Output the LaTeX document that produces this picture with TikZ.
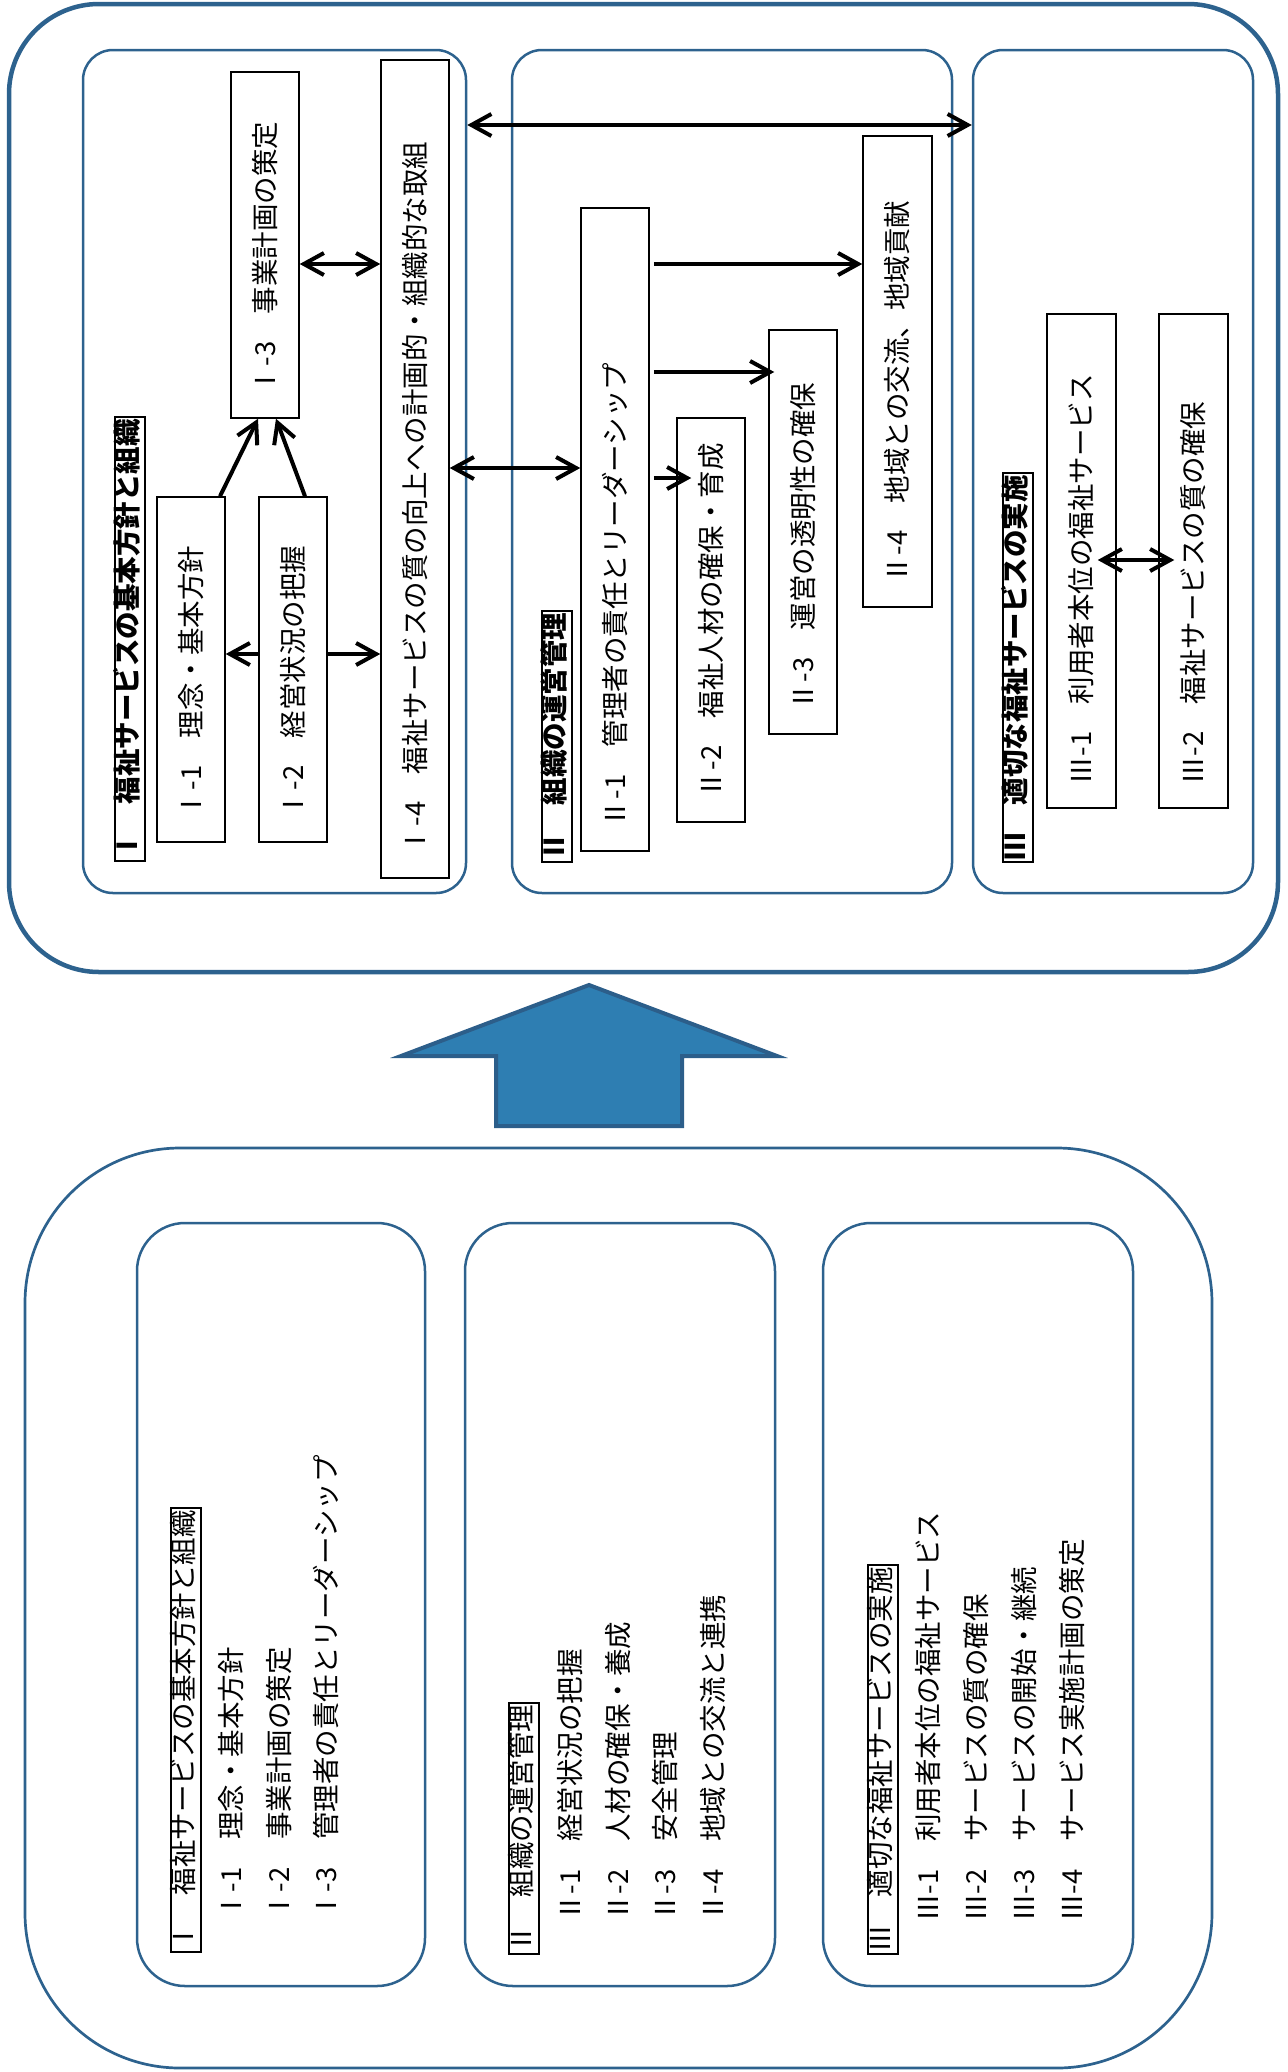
\documentclass[tikz,border=0pt]{standalone}
\usepackage{fontspec}
\usepackage{graphicx}
\setmainfont{Noto Sans CJK JP}
\usetikzlibrary{arrows.meta,calc}
\definecolor{bl}{RGB}{45,98,142}
\definecolor{arrowfill}{RGB}{46,126,178}
\definecolor{arrowline}{RGB}{44,94,138}
\newcommand{\rtx}[2]{\rotatebox{90}{\makebox[#1][l]{\rule[-0.12em]{0pt}{1em}#2}}}
\begin{document}
\begin{tikzpicture}[x=0.5pt,y=-0.5pt,
  every node/.style={font=\fontsize{13.75}{16}\selectfont},
  secbox/.style={draw=bl,line width=1.25pt,rounded corners=15pt,inner sep=0pt,minimum height=421.5pt},
  bbox/.style={draw=bl,line width=1.25pt,rounded corners=24pt,inner sep=0pt,minimum height=381.5pt},
  itembox/.style={draw=black,line width=0.75pt,inner sep=0pt,minimum width=34pt},
  head/.style={draw=black,line width=1pt,rotate=90,anchor=west,inner xsep=1pt,inner ysep=2.5pt,
    text height=0.88em,text depth=0.12em,font=\fontsize{13.75}{16}\selectfont\bfseries},
  headb/.style={draw=black,line width=1pt,rotate=90,anchor=west,inner xsep=1pt,inner ysep=2.5pt,
    text height=0.88em,text depth=0.12em},
  btxt/.style={rotate=90,anchor=west,inner sep=0pt,text height=0.88em,text depth=0.12em},
  conn/.style={line width=2pt,-{Straight Barb[length=10pt,width=11pt]}},
  dconn/.style={line width=2pt,{Straight Barb[length=10pt,width=11pt]}-{Straight Barb[length=10pt,width=11pt]}}
]
\useasboundingbox (0,0) rectangle (1288,2072);

% ---------- upper part ----------
\node[draw=bl,line width=2.25pt,rounded corners=45pt,minimum width=634.5pt,minimum height=484pt,inner sep=0pt] (topbox) at (643.5,488) {};
\node[secbox,minimum width=191.5pt] (secI) at (274.5,471.5) {};
\node[secbox,minimum width=220pt] (secII) at (732,471.5) {};
\node[secbox,minimum width=140pt] (secIII) at (1113,471.5) {};

\node[head] (hI) at (130,862) {Ⅰ　福祉サービスの基本方針と組織};
\node[head] (hII) at (557,863) {Ⅱ　組織の運営管理};
\node[head] (hIII) at (1018,863) {Ⅲ　適切な福祉サービスの実施};

\node[itembox,minimum height=172.5pt] (I1) at (191,669.5) {\rtx{148.5pt}{Ⅰ-1　理念・基本方針}};
\node[itembox,minimum height=172.5pt] (I2) at (293,669.5) {\rtx{148.5pt}{Ⅰ-2　経営状況の把握}};
\node[itembox,minimum height=173pt] (I3) at (265,245) {\rtx{149pt}{Ⅰ-3　事業計画の策定}};
\node[itembox,minimum height=409pt] (I4) at (415,469) {\rtx{385pt}{Ⅰ-4　福祉サービスの質の向上への計画的・組織的な取組}};

\node[itembox,minimum height=321.5pt] (II1) at (615,529.5) {\rtx{297.5pt}{Ⅱ-1　管理者の責任とリーダーシップ}};
\node[itembox,minimum height=202pt] (II2) at (711,620) {\rtx{178pt}{Ⅱ-2　福祉人材の確保・育成}};
\node[itembox,minimum height=202pt] (II3) at (803,532) {\rtx{178pt}{Ⅱ-3　運営の透明性の確保}};
\node[itembox,minimum width=34.5pt,minimum height=235.5pt] (II4) at (897.5,371.5) {\rtx{211.5pt}{Ⅱ-4　地域との交流、地域貢献}};

\node[itembox,minimum width=34.5pt,minimum height=247pt] (III1) at (1081.5,561) {\rtx{223pt}{Ⅲ-1　利用者本位の福祉サービス}};
\node[itembox,minimum width=34.5pt,minimum height=247pt] (III2) at (1193.5,561) {\rtx{223pt}{Ⅲ-2　福祉サービスの質の確保}};

% connectors
\draw[dconn] (secI.east |- 0,125) -- (secIII.west |- 0,125);
\draw[dconn] (I4.east |- 0,468) -- (II1.west |- 0,468);
\draw[dconn] (I3.east |- 0,264) -- (I4.west |- 0,264);
\draw[conn] (I2.west |- 0,654) -- (I1.east |- 0,654);
\draw[conn] (I2.east |- 0,654) -- (I4.west |- 0,654);
\draw[conn] ($(I1.north)+(29,0)$) -- ($(I3.south)+(-7,0)$);
\draw[conn] ($(I2.north)+(12,0)$) -- ($(I3.south)+(11,0)$);

\coordinate (s1) at ([xshift=2pt]II1.east);
\coordinate (e2) at ([xshift=7.5pt]II2.west);
\coordinate (e3) at ([xshift=3pt]II3.west);
\draw[conn] (s1 |- 0,478) -- (e2 |- 0,478);
\draw[conn] (s1 |- 0,372) -- (e3 |- 0,372);
\draw[conn] (s1 |- 0,264) -- (II4.west |- 0,264);

\coordinate (t1) at ([xshift=-9.5pt]III1.east);
\coordinate (t2) at ([xshift=8pt]III2.west);
\draw[dconn] (t1 |- 0,560) -- (t2 |- 0,560);

% ---------- big arrow ----------
\filldraw[fill=arrowfill,draw=arrowline,line width=2pt]
  (589,985) -- (777,1056) -- (682,1056) -- (682,1126) -- (496,1126) -- (496,1056) -- (401,1056) -- cycle;

% ---------- lower part ----------
\node[draw=bl,line width=1.35pt,rounded corners=77.5pt,minimum width=593.5pt,minimum height=460pt,inner sep=0pt] (botbox) at (618.5,1608) {};
\node[bbox,minimum width=144pt] (bI) at (281,1604.5) {};
\node[bbox,minimum width=155pt] (bII) at (620,1604.5) {};
\node[bbox,minimum width=155pt] (bIII) at (978,1604.5) {};

\node[headb] (bhI) at (186,1953) {Ⅰ　福祉サービスの基本方針と組織};
\node[btxt] (bI1) at (234,1920) {Ⅰ-1　理念・基本方針};
\node[btxt] (bI2) at (282,1920) {Ⅰ-2　事業計画の策定};
\node[btxt] (bI3) at (329,1920) {Ⅰ-3　管理者の責任とリーダーシップ};

\node[headb] (bhII) at (523.5,1955) {Ⅱ　組織の運営管理};
\node[btxt] (bII1) at (572.5,1922) {Ⅱ-1　経営状況の把握};
\node[btxt] (bII2) at (621,1922) {Ⅱ-2　人材の確保・養成};
\node[btxt] (bII3) at (668,1922) {Ⅱ-3　安全管理};
\node[btxt] (bII4) at (716,1922) {Ⅱ-4　地域との交流と連携};

\node[headb] (bhIII) at (882.5,1955) {Ⅲ　適切な福祉サービスの実施};
\node[btxt] (bIII1) at (931,1922) {Ⅲ-1　利用者本位の福祉サービス};
\node[btxt] (bIII2) at (979,1922) {Ⅲ-2　サービスの質の確保};
\node[btxt] (bIII3) at (1027,1922) {Ⅲ-3　サービスの開始・継続};
\node[btxt] (bIII4) at (1075,1922) {Ⅲ-4　サービス実施計画の策定};
\end{tikzpicture}
\end{document}
